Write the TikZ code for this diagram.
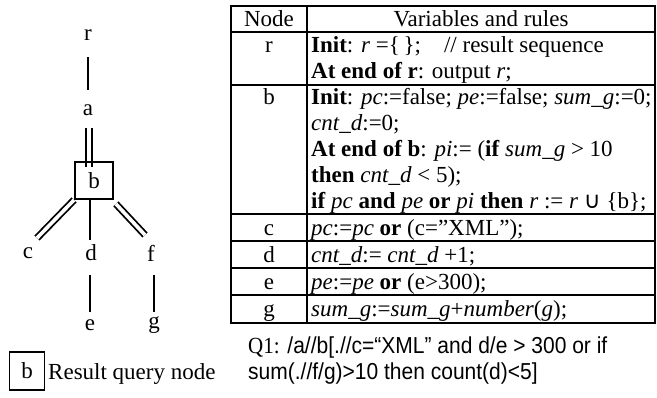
\documentclass[tikz,border=0pt]{standalone}
\usepackage{fontspec}
\setmainfont{Liberation Serif}
\newfontfamily\qsans{Liberation Sans}
\newfontfamily\symf{DejaVu Sans}
\usetikzlibrary{calc,backgrounds}
\begin{document}
\begin{tikzpicture}[x=1pt,y=-1pt,
  txt/.style={inner sep=0pt, font=\fontsize{23}{26}\selectfont},
  qnode/.style={txt, draw, line width=1.8pt, minimum width=38pt, minimum height=37pt},
  edgeone/.style={line width=1.8pt},
  edgetwo/.style={line width=1.8pt, double, double distance=3.6pt},
  cell/.style={txt, anchor=base west},
  ccell/.style={txt, anchor=base},
  rule/.style={line width=1.6pt},
  frame/.style={line width=2pt},
  qtext/.style={inner sep=0pt, anchor=base west, font=\fontsize{21}{25}\qsans}
]
\useasboundingbox (0,0) rectangle (657,397);

% ---- query tree ----
\node[txt] (r) at (88,35) {r};
\node[txt] (a) at (88,110) {a};
\node[qnode] (b) at (94,180.5) {b};
\node[txt] (c) at (28,253) {c};
\node[txt] (d) at (91,253) {d};
\node[txt] (f) at (151,253) {f};
\node[txt] (e) at (90,325) {e};
\node[txt] (g) at (154,325) {g};

\begin{scope}[on background layer]
  \draw[edgeone] ($(r)+(0,22)$) -- ($(a)+(0,-20)$);
  \draw[edgetwo] ($(a)+(1,18)$) -- ($(b.north)+(-5,6)$);
  \draw[edgetwo] (b.south west) -- ($(c)+(9,-15)$);
  \draw[edgeone] ($(b.south)+(-4,0)$) -- ($(d)+(-1,-13)$);
  \draw[edgetwo] ($(b.south east)+(2,4)$) -- ($(f)+(-6,-18)$);
  \draw[edgeone] ($(d)+(-1,22)$) -- ($(e)+(0,-13)$);
  \draw[edgeone] ($(f)+(3,22)$) -- ($(g)+(0,-13)$);
\end{scope}

% ---- rule table ----
\coordinate (tl) at (231,6);
\coordinate (br) at (655,323);
\draw[frame] (tl) rectangle (br);
\draw[rule] (307,6) -- (307,323);
\foreach \yy in {32,85,214,241,268,295}
  \draw[rule] (231,\yy) -- (655,\yy);

\node[ccell] (hnode) at (269,26) {Node};
\node[ccell] (hvar) at (481,26) {Variables and rules};

\node[ccell] (nr) at (269,52) {r};
\node[cell] (r1) at (311,52) {\textbf{Init}: \textit{r} =\{\,\};\ \ \ \ // result sequence};
\node[cell] (r2) at (311,78) {\textbf{At end of r}: output \textit{r};};

\node[ccell] (nb) at (269,104) {b};
\node[cell] (b1) at (311,104) {\textbf{Init}: \textit{pc}:=false; \textit{pe}:=false; \textit{sum\_g}:=0;};
\node[cell] (b2) at (311,130) {\textit{cnt\_d}:=0;};
\node[cell] (b3) at (311,156) {\textbf{At end of b}: \textit{pi}:= (\textbf{if} \textit{sum\_g} > 10};
\node[cell] (b4) at (311,182) {\textbf{then} \textit{cnt\_d} < 5);};
\node[cell] (b5) at (311,208) {\textbf{if} \textit{pc} \textbf{and} \textit{pe} \textbf{or} \textit{pi} \textbf{then} \textit{r} := \textit{r} {\symf ∪} \{b\};};

\node[ccell] (nc) at (269,235) {c};
\node[cell] (c1) at (311,235) {\textit{pc}:=\textit{pc} \textbf{or} (c=”XML”);};
\node[ccell] (nd) at (269,262) {d};
\node[cell] (d1) at (311,262) {\textit{cnt\_d}:= \textit{cnt\_d} +1;};
\node[ccell] (ne) at (269,289) {e};
\node[cell] (e1) at (311,289) {\textit{pe}:=\textit{pe} \textbf{or} (e>300);};
\node[ccell] (ng) at (269,316) {g};
\node[cell] (g1) at (311,316) {\textit{sum\_g}:=\textit{sum\_g}+\textit{number}(\textit{g});};

% ---- legend and query ----
\node[qnode, minimum width=35pt, minimum height=38pt] (lb) at (27,371) {b};
\node[cell] (lt) at (48,379) {Result query node};
\node[qtext] (q1) at (248,353) {\scalebox{1}[1.1]{{\rmfamily Q1:} /a//b[.//c=“XML” and d/e > 300 or if}};
\node[qtext] (q2) at (248,379) {\scalebox{1}[1.1]{sum(.//f/g)>10 then count(d)<5]}};
\end{tikzpicture}
\end{document}
